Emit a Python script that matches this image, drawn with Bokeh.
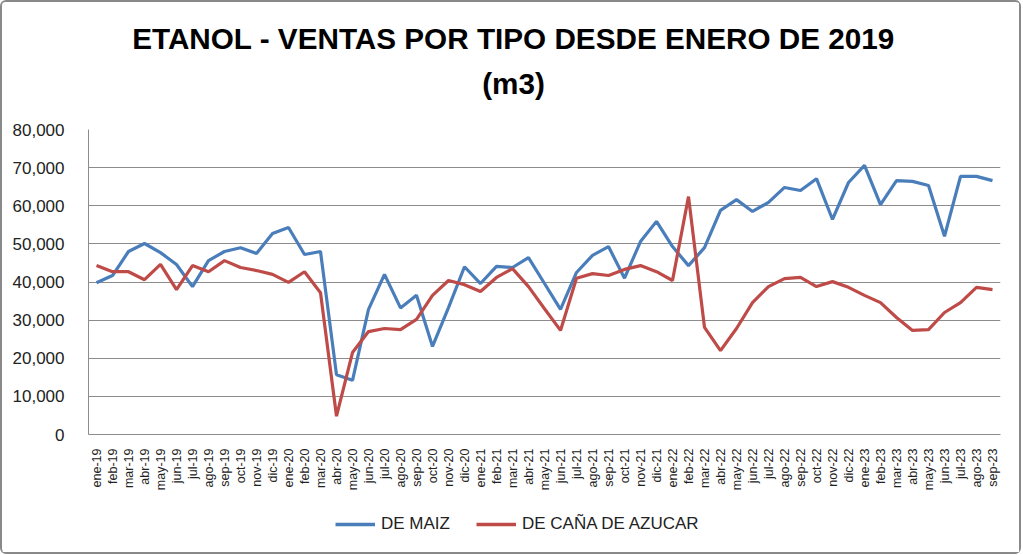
from math import pi
from bokeh.plotting import figure
from bokeh.layouts import column
from bokeh.models import (ColumnDataSource, FactorRange, Range1d, NumeralTickFormatter,
                          FixedTicker, Label, Legend, LegendItem)
from bokeh.embed import file_html
from bokeh.resources import INLINE

months = ["ene-19", "feb-19", "mar-19", "abr-19", "may-19", "jun-19", "jul-19", "ago-19", "sep-19", "oct-19", "nov-19", "dic-19",
          "ene-20", "feb-20", "mar-20", "abr-20", "may-20", "jun-20", "jul-20", "ago-20", "sep-20", "oct-20", "nov-20", "dic-20",
          "ene-21", "feb-21", "mar-21", "abr-21", "may-21", "jun-21", "jul-21", "ago-21", "sep-21", "oct-21", "nov-21", "dic-21",
          "ene-22", "feb-22", "mar-22", "abr-22", "may-22", "jun-22", "jul-22", "ago-22", "sep-22", "oct-22", "nov-22", "dic-22",
          "ene-23", "feb-23", "mar-23", "abr-23", "may-23", "jun-23", "jul-23", "ago-23", "sep-23"]

maiz = [39800, 41700, 48000, 50100, 47700, 44600, 38800, 45600, 48000, 49000, 47500, 52700,
        54300, 47200, 48000, 15700, 14200, 32800, 42000, 33200, 36500, 23100, 33300, 44000,
        39600, 44100, 43800, 46400, 39600, 32800, 42500, 47000, 49300, 41000, 50600, 55900,
        49300, 44300, 49000, 58800, 61600, 58500, 60900, 64800, 64000, 67100, 56400, 66100,
        70600, 60300, 66600, 66400, 65300, 52000, 67700, 67700, 66600]

cana = [44300, 42700, 42700, 40600, 44600, 38000, 44300, 42700, 45600, 43800, 43000, 42000,
        39900, 42700, 37200, 4800, 21500, 27000, 27800, 27500, 30200, 36500, 40400, 39300,
        37500, 41200, 43500, 38800, 33000, 27300, 41000, 42200, 41700, 43300, 44300, 42700,
        40400, 62400, 28100, 22000, 27800, 34600, 38800, 40900, 41200, 38800, 40100, 38600,
        36500, 34600, 30700, 27300, 27500, 32000, 34600, 38600, 38000]

y_ticks = [0, 10000, 20000, 30000, 40000, 50000, 60000, 70000, 80000]
title_lines = ["ETANOL - VENTAS POR TIPO DESDE ENERO DE 2019", "(m3)"]
series_names = ["DE MAIZ", "DE CAÑA DE AZUCAR"]
colors = ["#4A7EBB", "#BE4B48"]

FONT = "Liberation Sans"
GRID = "#8c8c8c"
W = 1017
BL, BR = 86, 19
FW = W - BL - BR


def blank_fig(h):
    f = figure(width=W, height=h, x_range=Range1d(0, FW), y_range=Range1d(0, h), title=None,
               x_axis_type=None, y_axis_type=None, output_backend="svg", toolbar_location=None,
               min_border_left=BL, min_border_right=BR, min_border_top=0, min_border_bottom=0)
    f.outline_line_color = None
    f.xgrid.grid_line_color = None
    f.ygrid.grid_line_color = None
    return f


# ---- title ----
tf = blank_fig(106)
for txt, yy in zip(title_lines, [70, 25]):
    tf.add_layout(Label(x=425, y=yy, x_units="screen", y_units="screen", text=txt,
                        text_align="center", text_baseline="alphabetic",
                        text_font=FONT, text_font_size="29.7px", text_font_style="bold",
                        text_color="#000000"))

# ---- main chart ----
src = ColumnDataSource(dict(m=months, maiz=maiz, cana=cana))
p = figure(width=W, height=392, x_range=FactorRange(factors=months), title=None,
           y_range=Range1d(0, 80000), output_backend="svg", toolbar_location=None,
           min_border_left=BL, min_border_right=BR, min_border_top=21, min_border_bottom=66)
p.outline_line_color = None
p.xgrid.grid_line_color = None
p.ygrid.grid_line_color = GRID
p.ygrid.grid_line_width = 1

p.yaxis.ticker = FixedTicker(ticks=y_ticks)
p.yaxis.formatter = NumeralTickFormatter(format="0,0")
p.yaxis.major_label_text_font = FONT
p.yaxis.major_label_text_font_size = "17px"
p.yaxis.major_label_text_color = "#222222"
p.yaxis.major_label_standoff = 18
p.yaxis.major_tick_line_color = None
p.yaxis.minor_tick_line_color = None
p.yaxis.axis_line_color = GRID

p.xaxis.major_label_orientation = pi / 2
p.xaxis.major_label_text_font = FONT
p.xaxis.major_label_text_font_size = "12.5px"
p.xaxis.major_label_text_color = "#222222"
p.xaxis.major_label_standoff = 8
p.xaxis.major_tick_line_color = None
p.xaxis.axis_line_color = GRID

r1 = p.line("m", "maiz", source=src, line_color=colors[0], line_width=3.2)
r2 = p.line("m", "cana", source=src, line_color=colors[1], line_width=3.2)

# ---- legend (separate strip, its glyphs come from hidden copies of the series) ----
lf = blank_fig(52)
idx = list(range(len(months)))
g1 = lf.line(x=idx, y=maiz, line_color=colors[0], line_width=3.5, visible=False)
g2 = lf.line(x=idx, y=cana, line_color=colors[1], line_width=3.5, visible=False)
legend = Legend(items=[LegendItem(label=series_names[0], renderers=[g1]),
                       LegendItem(label=series_names[1], renderers=[g2])],
                location=(247, 18), orientation="horizontal",
                glyph_width=40, glyph_height=20, label_standoff=6, spacing=26,
                padding=0, margin=0, border_line_color=None, background_fill_alpha=0,
                inactive_fill_alpha=0,
                label_text_font=FONT, label_text_font_size="17px", label_text_color="#222222")
lf.add_layout(legend)

layout = column(tf, p, lf, spacing=0,
                styles={"border": "2px solid #898989", "border-radius": "6px"})

open("out.html", "w").write(file_html(layout, INLINE))
